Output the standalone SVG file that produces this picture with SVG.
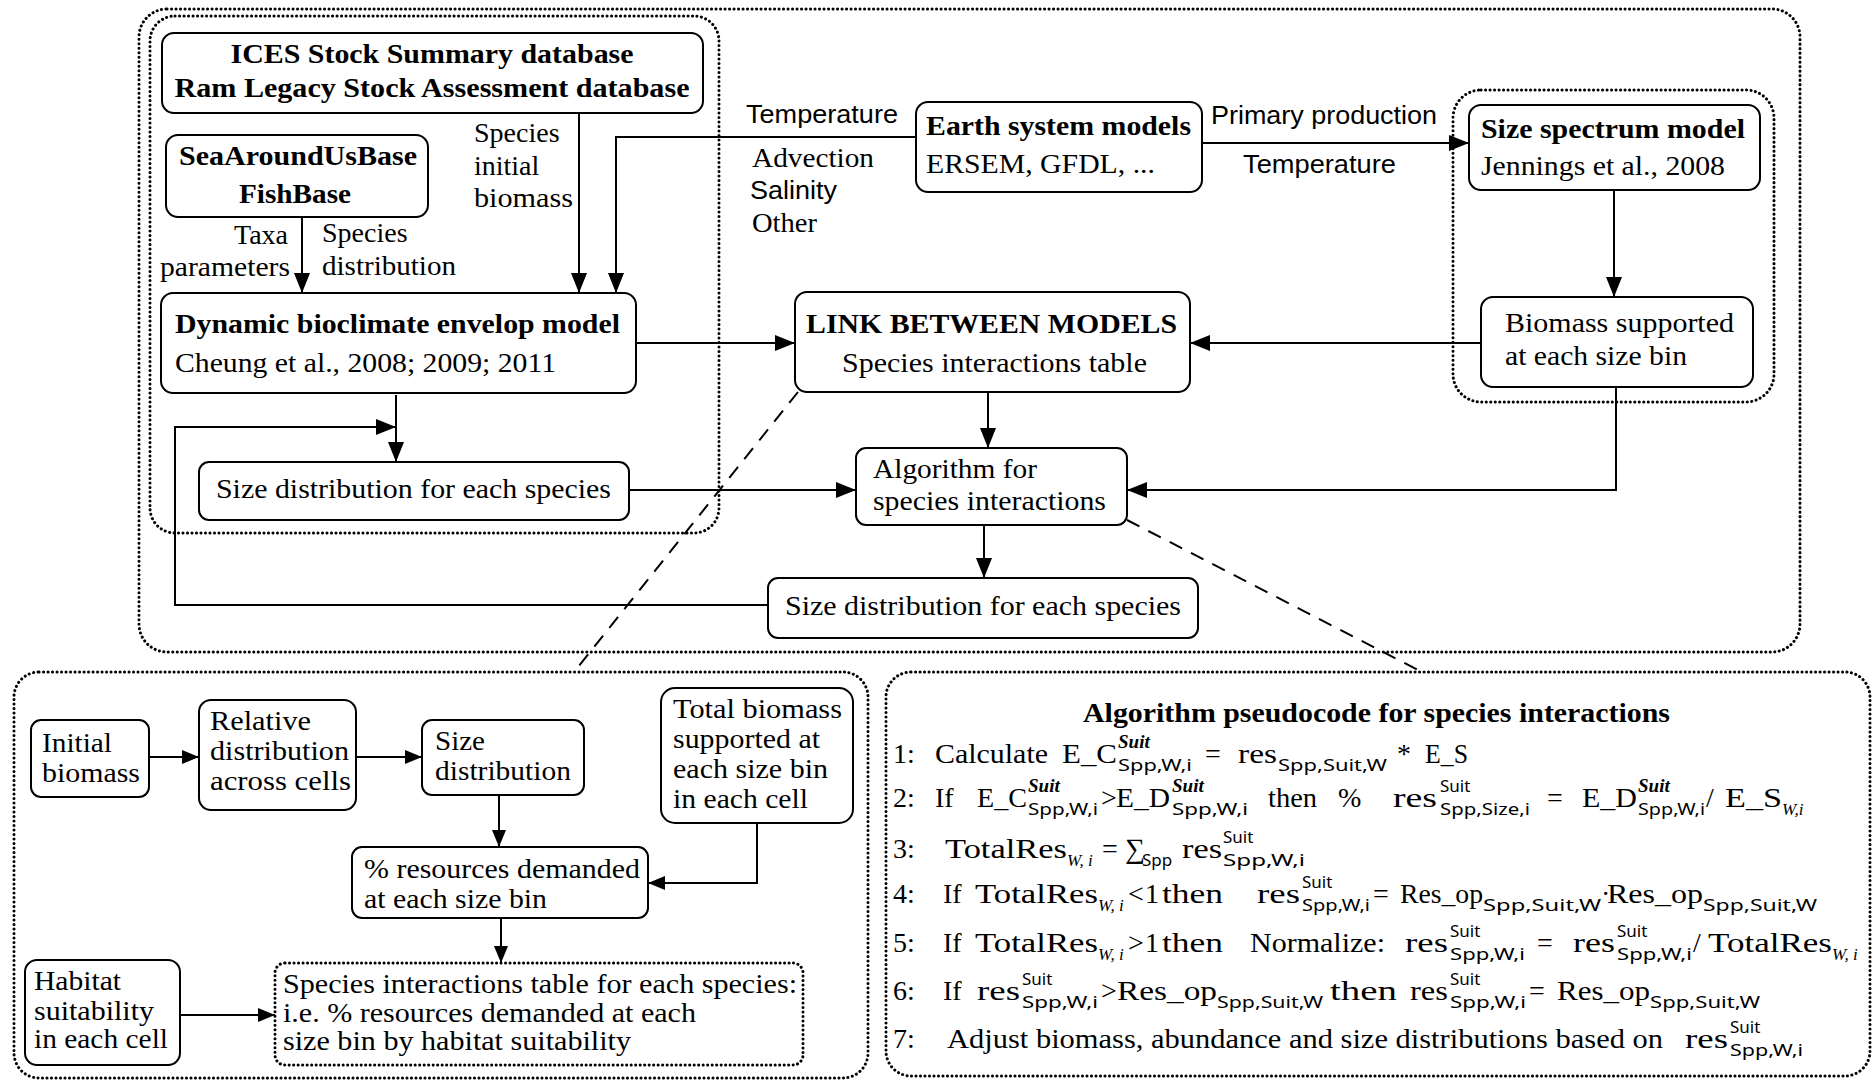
<svg xmlns="http://www.w3.org/2000/svg" width="1874" height="1081" viewBox="0 0 1874 1081">
<defs>
<style>
.box{fill:#fff;stroke:#000;stroke-width:2}
.dot{fill:none;stroke:#000;stroke-width:3;stroke-linecap:round;stroke-dasharray:0.1 4.4}
.ln{fill:none;stroke:#000;stroke-width:2}
.arr{marker-end:url(#ah)}
.arrs{marker-end:url(#ahs)}
.dash{fill:none;stroke:#000;stroke-width:2;stroke-dasharray:14 10}
text{font-family:"Liberation Serif","Times New Roman",serif;font-size:28px;fill:#000}
.b{font-weight:bold}
.s{font-family:"Liberation Sans",Arial,sans-serif;font-size:26px}
.sm{font-size:27px}
.sub{font-family:"Noto Sans","DejaVu Sans",sans-serif;font-size:17px}
.sup{font-size:19px;font-weight:bold;font-style:italic}
.it{font-style:italic;font-size:17px}
</style>
<marker id="ah" markerWidth="20" markerHeight="16" refX="20" refY="8" orient="auto" markerUnits="userSpaceOnUse"><path d="M0,0 L20,8 L0,16 Z" fill="#000"/></marker>
<marker id="ahs" markerWidth="17" markerHeight="14" refX="17" refY="7" orient="auto" markerUnits="userSpaceOnUse"><path d="M0,0 L17,7 L0,14 Z" fill="#000"/></marker>
</defs>
<rect width="1874" height="1081" fill="#fff"/>

<g id="containers">
<rect class="dot" x="139" y="9" width="1661" height="643" rx="28"/>
<rect class="dot" x="150" y="16" width="569" height="517" rx="25"/>
<rect class="dot" x="1453" y="90" width="321" height="312" rx="28"/>
<rect class="dot" x="14" y="672" width="854" height="406" rx="25"/>
<rect class="dot" x="886" y="672" width="984" height="404" rx="25"/>
</g>

<g id="connectors">
<path class="ln arr" d="M302,217 V293"/>
<path class="ln arr" d="M579,113 V293"/>
<path class="ln arr" d="M916,137 H616 V293"/>
<path class="ln arr" d="M1202,143 H1469"/>
<path class="ln arr" d="M1614,190 V297"/>
<path class="ln arr" d="M1481,343 H1190"/>
<path class="ln arr" d="M636,343 H795"/>
<path class="ln arr" d="M396,395 V462"/>
<path class="ln arr" d="M629,490 H856"/>
<path class="ln arr" d="M1616,387 V490 H1127"/>
<path class="ln arr" d="M988,392 V448"/>
<path class="ln arr" d="M984,525 V578"/>
<path class="ln arr" d="M768,605 H175 V427 H396"/>
<path class="dash" d="M798,392 L574,672"/>
<path class="dash" d="M1127,520 L1422,672"/>
<path class="ln arrs" d="M149,757 H199"/>
<path class="ln arrs" d="M356,757 H422"/>
<path class="ln arrs" d="M499,795 V847"/>
<path class="ln arrs" d="M757,823 V883 H648"/>
<path class="ln arrs" d="M501,918 V963"/>
<path class="ln arrs" d="M180,1015 H275"/>
</g>

<g id="labels">
<text x="288" y="244" text-anchor="end">Taxa</text>
<text x="290" y="276" text-anchor="end" textLength="130" lengthAdjust="spacingAndGlyphs">parameters</text>
<text x="322" y="242">Species</text>
<text x="322" y="275" textLength="134" lengthAdjust="spacingAndGlyphs">distribution</text>
<text x="474" y="142">Species</text>
<text x="474" y="175">initial</text>
<text x="474" y="207" textLength="99" lengthAdjust="spacingAndGlyphs">biomass</text>
<text class="s" x="746" y="123" textLength="152" lengthAdjust="spacingAndGlyphs">Temperature</text>
<text x="752" y="167" textLength="122" lengthAdjust="spacingAndGlyphs">Advection</text>
<text class="s" x="750" y="199" textLength="87" lengthAdjust="spacingAndGlyphs">Salinity</text>
<text x="752" y="232" textLength="65" lengthAdjust="spacingAndGlyphs">Other</text>
<text class="s" x="1211" y="124" textLength="226" lengthAdjust="spacingAndGlyphs">Primary production</text>
<text class="s" x="1243" y="173" textLength="153" lengthAdjust="spacingAndGlyphs">Temperature</text>
</g>

<g id="ices">
<rect class="box" x="162" y="33" width="541" height="80" rx="12"/>
<text class="b" x="432" y="63" text-anchor="middle" font-size="29" textLength="403" lengthAdjust="spacingAndGlyphs">ICES Stock Summary database</text>
<text class="b" x="432" y="97" text-anchor="middle" font-size="29" textLength="515" lengthAdjust="spacingAndGlyphs">Ram Legacy Stock Assessment database</text>
</g>

<g id="seaaroundus">
<rect class="box" x="166" y="135" width="262" height="82" rx="12"/>
<text class="b" x="298" y="165" text-anchor="middle" textLength="238" lengthAdjust="spacingAndGlyphs">SeaAroundUsBase</text>
<text class="b" x="295" y="203" text-anchor="middle" textLength="112" lengthAdjust="spacingAndGlyphs">FishBase</text>
</g>

<g id="dynamic">
<rect class="box" x="161" y="293" width="475" height="100" rx="12"/>
<text class="b" x="175" y="333" textLength="445" lengthAdjust="spacingAndGlyphs">Dynamic bioclimate envelop model</text>
<text x="175" y="372" textLength="381" lengthAdjust="spacingAndGlyphs">Cheung et al., 2008; 2009; 2011</text>
</g>

<g id="sizedist-left">
<rect class="box" x="199" y="462" width="430" height="58" rx="10"/>
<text x="216" y="498" textLength="395" lengthAdjust="spacingAndGlyphs">Size distribution for each species</text>
</g>

<g id="earth">
<rect class="box" x="916" y="102" width="286" height="90" rx="12"/>
<text class="b" x="926" y="135" font-size="29" textLength="265" lengthAdjust="spacingAndGlyphs">Earth system models</text>
<text x="926" y="173" textLength="229" lengthAdjust="spacingAndGlyphs">ERSEM, GFDL, ...</text>
</g>

<g id="sizespectrum">
<rect class="box" x="1469" y="105" width="291" height="85" rx="12"/>
<text class="b" x="1481" y="138" font-size="30" textLength="264" lengthAdjust="spacingAndGlyphs">Size spectrum model</text>
<text x="1481" y="175" textLength="244" lengthAdjust="spacingAndGlyphs">Jennings et al., 2008</text>
</g>

<g id="biomass-supported">
<rect class="box" x="1481" y="297" width="272" height="90" rx="12"/>
<text x="1505" y="332" textLength="229" lengthAdjust="spacingAndGlyphs">Biomass supported</text>
<text x="1505" y="365" textLength="182" lengthAdjust="spacingAndGlyphs">at each size bin</text>
</g>

<g id="link">
<rect class="box" x="795" y="292" width="395" height="100" rx="12"/>
<text class="b" x="806" y="333" textLength="371" lengthAdjust="spacingAndGlyphs">LINK BETWEEN MODELS</text>
<text x="842" y="372" textLength="305" lengthAdjust="spacingAndGlyphs">Species interactions table</text>
</g>

<g id="algorithm">
<rect class="box" x="856" y="448" width="271" height="77" rx="10"/>
<text x="873" y="478" textLength="164" lengthAdjust="spacingAndGlyphs">Algorithm for</text>
<text x="873" y="510" textLength="233" lengthAdjust="spacingAndGlyphs">species interactions</text>
</g>

<g id="sizedist-bottom">
<rect class="box" x="768" y="578" width="430" height="60" rx="10"/>
<text x="785" y="615" textLength="396" lengthAdjust="spacingAndGlyphs">Size distribution for each species</text>
</g>

<g id="initial-biomass">
<rect class="box" x="31" y="720" width="118" height="77" rx="10"/>
<text class="sm" x="42" y="752" textLength="70" lengthAdjust="spacingAndGlyphs">Initial</text>
<text class="sm" x="42" y="782" textLength="98" lengthAdjust="spacingAndGlyphs">biomass</text>
</g>

<g id="relative">
<rect class="box" x="199" y="700" width="157" height="110" rx="12"/>
<text class="sm" x="210" y="730" textLength="101" lengthAdjust="spacingAndGlyphs">Relative</text>
<text class="sm" x="210" y="760" textLength="139" lengthAdjust="spacingAndGlyphs">distribution</text>
<text class="sm" x="210" y="790" textLength="141" lengthAdjust="spacingAndGlyphs">across cells</text>
</g>

<g id="size-small">
<rect class="box" x="422" y="720" width="162" height="75" rx="10"/>
<text class="sm" x="435" y="750" textLength="50" lengthAdjust="spacingAndGlyphs">Size</text>
<text class="sm" x="435" y="780" textLength="136" lengthAdjust="spacingAndGlyphs">distribution</text>
</g>

<g id="total-biomass">
<rect class="box" x="661" y="688" width="192" height="135" rx="14"/>
<text class="sm" x="673" y="718" textLength="169" lengthAdjust="spacingAndGlyphs">Total biomass</text>
<text class="sm" x="673" y="748" textLength="147" lengthAdjust="spacingAndGlyphs">supported at</text>
<text class="sm" x="673" y="778" textLength="155" lengthAdjust="spacingAndGlyphs">each size bin</text>
<text class="sm" x="673" y="808" textLength="135" lengthAdjust="spacingAndGlyphs">in each cell</text>
</g>

<g id="resources">
<rect class="box" x="352" y="847" width="296" height="71" rx="10"/>
<text class="sm" x="364" y="878" textLength="276" lengthAdjust="spacingAndGlyphs">% resources demanded</text>
<text class="sm" x="364" y="908" textLength="183" lengthAdjust="spacingAndGlyphs">at each size bin</text>
</g>

<g id="species-table">
<rect class="dot" x="275" y="963" width="528" height="102" rx="10"/>
<text class="sm" x="283" y="993" textLength="514" lengthAdjust="spacingAndGlyphs">Species interactions table for each species:</text>
<text class="sm" x="283" y="1022" textLength="413" lengthAdjust="spacingAndGlyphs">i.e. % resources demanded at each</text>
<text class="sm" x="283" y="1050" textLength="348" lengthAdjust="spacingAndGlyphs">size bin by habitat suitability</text>
</g>

<g id="habitat">
<rect class="box" x="25" y="960" width="155" height="105" rx="12"/>
<text class="sm" x="34" y="990" textLength="87" lengthAdjust="spacingAndGlyphs">Habitat</text>
<text class="sm" x="34" y="1020" textLength="120" lengthAdjust="spacingAndGlyphs">suitability</text>
<text class="sm" x="34" y="1048" textLength="134" lengthAdjust="spacingAndGlyphs">in each cell</text>
</g>

<g id="pseudocode">
<text class="b" x="1083" y="722" font-size="30" textLength="587" lengthAdjust="spacingAndGlyphs">Algorithm pseudocode for species interactions</text>
<!-- line 1 -->
<text x="893" y="763">1:</text>
<text x="935" y="763" textLength="113" lengthAdjust="spacingAndGlyphs">Calculate</text>
<text x="1062" y="763" textLength="55" lengthAdjust="spacingAndGlyphs">E_C</text>
<text class="sup" x="1118" y="748">Suit</text>
<text class="sub" x="1118" y="771" textLength="74" lengthAdjust="spacingAndGlyphs">Spp,W,i</text>
<text x="1205" y="763">=</text>
<text x="1238" y="763" textLength="39" lengthAdjust="spacingAndGlyphs">res</text>
<text class="sub" x="1278" y="771" textLength="109" lengthAdjust="spacingAndGlyphs">Spp,Suit,W</text>
<text x="1397" y="763">*</text>
<text x="1425" y="763" textLength="43" lengthAdjust="spacingAndGlyphs">E_S</text>
<!-- line 2 -->
<text x="893" y="807">2:</text>
<text x="935" y="807">If</text>
<text x="977" y="807" textLength="50" lengthAdjust="spacingAndGlyphs">E_C</text>
<text class="sup" x="1028" y="792">Suit</text>
<text class="sub" x="1028" y="815" textLength="70" lengthAdjust="spacingAndGlyphs">Spp,W,i</text>
<text x="1101" y="807">&gt;</text>
<text x="1116" y="807" textLength="54" lengthAdjust="spacingAndGlyphs">E_D</text>
<text class="sup" x="1172" y="792">Suit</text>
<text class="sub" x="1172" y="815" textLength="76" lengthAdjust="spacingAndGlyphs">Spp,W,i</text>
<text x="1268" y="807" textLength="49" lengthAdjust="spacingAndGlyphs">then</text>
<text x="1338" y="807">%</text>
<text x="1393" y="807" textLength="44" lengthAdjust="spacingAndGlyphs">res</text>
<text class="sub" x="1440" y="792">Suit</text>
<text class="sub" x="1440" y="815" textLength="90" lengthAdjust="spacingAndGlyphs">Spp,Size,i</text>
<text x="1547" y="807">=</text>
<text x="1582" y="807" textLength="55" lengthAdjust="spacingAndGlyphs">E_D</text>
<text class="sup" x="1638" y="792">Suit</text>
<text class="sub" x="1638" y="815" textLength="67" lengthAdjust="spacingAndGlyphs">Spp,W,i</text>
<text x="1706" y="807">/</text>
<text x="1725" y="807" textLength="57" lengthAdjust="spacingAndGlyphs">E_S</text>
<text class="it" x="1782" y="815">W,i</text>
<!-- line 3 -->
<text x="893" y="858">3:</text>
<text x="945" y="858" textLength="122" lengthAdjust="spacingAndGlyphs">TotalRes</text>
<text class="it" x="1067" y="866">W, i</text>
<text x="1102" y="858">=</text>
<text x="1125" y="858">∑</text>
<text class="sub" x="1142" y="866">Spp</text>
<text x="1182" y="858" textLength="40" lengthAdjust="spacingAndGlyphs">res</text>
<text class="sub" x="1223" y="843">Suit</text>
<text class="sub" x="1223" y="866" textLength="82" lengthAdjust="spacingAndGlyphs">Spp,W,i</text>
<!-- line 4 -->
<text x="893" y="903">4:</text>
<text x="943" y="903">If</text>
<text x="975" y="903" textLength="123" lengthAdjust="spacingAndGlyphs">TotalRes</text>
<text class="it" x="1098" y="911">W, i</text>
<text x="1128" y="903">&lt;</text>
<text x="1145" y="903">1</text>
<text x="1162" y="903" textLength="61" lengthAdjust="spacingAndGlyphs">then</text>
<text x="1257" y="903" textLength="43" lengthAdjust="spacingAndGlyphs">res</text>
<text class="sub" x="1302" y="888">Suit</text>
<text class="sub" x="1302" y="911" textLength="68" lengthAdjust="spacingAndGlyphs">Spp,W,i</text>
<text x="1373" y="903">=</text>
<text x="1400" y="903" textLength="83" lengthAdjust="spacingAndGlyphs">Res_op</text>
<text class="sub" x="1483" y="911" textLength="118" lengthAdjust="spacingAndGlyphs">Spp,Suit,W</text>
<text x="1601" y="903">·</text>
<text x="1607" y="903" textLength="96" lengthAdjust="spacingAndGlyphs">Res_op</text>
<text class="sub" x="1703" y="911" textLength="114" lengthAdjust="spacingAndGlyphs">Spp,Suit,W</text>
<!-- line 5 -->
<text x="893" y="952">5:</text>
<text x="943" y="952">If</text>
<text x="975" y="952" textLength="123" lengthAdjust="spacingAndGlyphs">TotalRes</text>
<text class="it" x="1098" y="960">W, i</text>
<text x="1128" y="952">&gt;</text>
<text x="1145" y="952">1</text>
<text x="1162" y="952" textLength="61" lengthAdjust="spacingAndGlyphs">then</text>
<text x="1250" y="952" textLength="135" lengthAdjust="spacingAndGlyphs">Normalize:</text>
<text x="1405" y="952" textLength="43" lengthAdjust="spacingAndGlyphs">res</text>
<text class="sub" x="1450" y="937">Suit</text>
<text class="sub" x="1450" y="960" textLength="75" lengthAdjust="spacingAndGlyphs">Spp,W,i</text>
<text x="1537" y="952">=</text>
<text x="1573" y="952" textLength="42" lengthAdjust="spacingAndGlyphs">res</text>
<text class="sub" x="1617" y="937">Suit</text>
<text class="sub" x="1617" y="960" textLength="75" lengthAdjust="spacingAndGlyphs">Spp,W,i</text>
<text x="1693" y="952">/</text>
<text x="1708" y="952" textLength="124" lengthAdjust="spacingAndGlyphs">TotalRes</text>
<text class="it" x="1832" y="960">W, i</text>
<!-- line 6 -->
<text x="893" y="1000">6:</text>
<text x="943" y="1000">If</text>
<text x="977" y="1000" textLength="43" lengthAdjust="spacingAndGlyphs">res</text>
<text class="sub" x="1022" y="985">Suit</text>
<text class="sub" x="1022" y="1008" textLength="76" lengthAdjust="spacingAndGlyphs">Spp,W,i</text>
<text x="1101" y="1000">&gt;</text>
<text x="1117" y="1000" textLength="100" lengthAdjust="spacingAndGlyphs">Res_op</text>
<text class="sub" x="1217" y="1008" textLength="106" lengthAdjust="spacingAndGlyphs">Spp,Suit,W</text>
<text x="1330" y="1000" textLength="67" lengthAdjust="spacingAndGlyphs">then</text>
<text x="1410" y="1000" textLength="38" lengthAdjust="spacingAndGlyphs">res</text>
<text class="sub" x="1450" y="985">Suit</text>
<text class="sub" x="1450" y="1008" textLength="76" lengthAdjust="spacingAndGlyphs">Spp,W,i</text>
<text x="1529" y="1000">=</text>
<text x="1557" y="1000" textLength="93" lengthAdjust="spacingAndGlyphs">Res_op</text>
<text class="sub" x="1650" y="1008" textLength="110" lengthAdjust="spacingAndGlyphs">Spp,Suit,W</text>
<!-- line 7 -->
<text x="893" y="1048">7:</text>
<text x="947" y="1048" textLength="716" lengthAdjust="spacingAndGlyphs">Adjust biomass, abundance and size distributions based on</text>
<text x="1685" y="1048" textLength="43" lengthAdjust="spacingAndGlyphs">res</text>
<text class="sub" x="1730" y="1033">Suit</text>
<text class="sub" x="1730" y="1056" textLength="73" lengthAdjust="spacingAndGlyphs">Spp,W,i</text>
</g>
</svg>
